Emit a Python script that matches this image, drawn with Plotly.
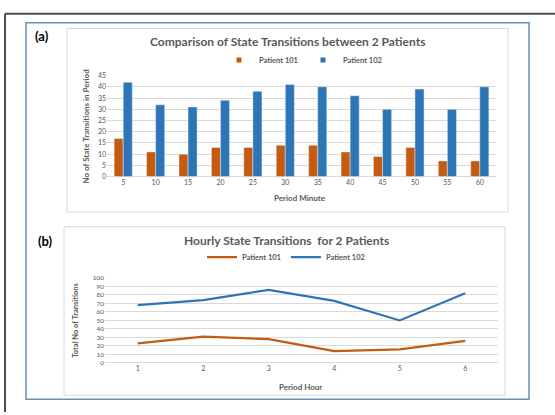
import plotly.graph_objects as go

W, H = 555, 415

# Panel (a): transitions per 5-minute period
minutes = ["5", "10", "15", "20", "25", "30", "35", "40", "45", "50", "55", "60"]
p101_min = [17, 11, 10, 13, 13, 14, 14, 11, 9, 13, 7, 7]
p102_min = [42, 32, 31, 34, 38, 41, 40, 36, 30, 39, 30, 40]

# Panel (b): hourly totals
hours = [1, 2, 3, 4, 5, 6]
p101_hr = [23, 31, 28, 14, 16, 26]
p102_hr = [68, 74, 86, 73, 50, 82]

ticks_a = [0, 5, 10, 15, 20, 25, 30, 35, 40, 45]
ticks_b = [0, 10, 20, 30, 40, 50, 60, 70, 80, 90, 100]

ORANGE = "#C55A11"
BLUE = "#2E75B6"
GRID = "#D9D9D9"
TXT = "#595959"
FONT = "Lato"


def px(x):
    return x / W


def py(y):
    return 1 - y / H


fig = go.Figure()

fig.add_trace(go.Bar(x=minutes, y=p101_min, name="Patient 101", marker_color=ORANGE,
                     xaxis="x", yaxis="y", showlegend=False))
fig.add_trace(go.Bar(x=minutes, y=p102_min, name="Patient 102", marker_color=BLUE,
                     xaxis="x", yaxis="y", showlegend=False))

# small square keys for the bar legend
for name, col in (("<b>Patient 101</b>", ORANGE), ("<b>Patient 102</b>", BLUE)):
    fig.add_trace(go.Scatter(x=[None], y=[None], name=name, mode="markers",
                             marker=dict(symbol="square", size=5, color=col),
                             xaxis="x", yaxis="y", legend="legend"))

fig.add_trace(go.Scatter(x=hours, y=p101_hr, name="<b>Patient 101</b>", mode="lines",
                         line=dict(color=ORANGE, width=2.2), xaxis="x2", yaxis="y2",
                         legend="legend2"))
fig.add_trace(go.Scatter(x=hours, y=p102_hr, name="<b>Patient 102</b>", mode="lines",
                         line=dict(color=BLUE, width=2.2), xaxis="x2", yaxis="y2",
                         legend="legend2"))

axis_common = dict(showline=False, ticks="", fixedrange=True)

fig.update_layout(
    width=W, height=H,
    margin=dict(l=0, r=0, t=0, b=0),
    paper_bgcolor="white", plot_bgcolor="white",
    barmode="group", bargap=0.44, bargroupgap=0,
    xaxis=dict(domain=[px(107), px(496)], type="category", showgrid=False,
               zeroline=False, anchor="y", tickfont=dict(family=FONT, size=7, color=TXT),
               **axis_common),
    yaxis=dict(domain=[py(175), py(72)], range=[0, 45], tickvals=ticks_a,
               showgrid=True, gridcolor=GRID, gridwidth=1, zeroline=True,
               zerolinecolor=GRID, zerolinewidth=1, anchor="x",
               tickfont=dict(family=FONT, size=7, color=TXT), **axis_common),
    xaxis2=dict(domain=[px(105), px(498)], range=[0.5, 6.5], tickvals=hours,
                showgrid=False, zeroline=False, anchor="y2",
                tickfont=dict(family=FONT, size=7, color=TXT), **axis_common),
    yaxis2=dict(domain=[py(365), py(278.3)], range=[0, 100], tickvals=ticks_b,
                showgrid=True, gridcolor=GRID, gridwidth=1, zeroline=True,
                zerolinecolor=GRID, zerolinewidth=1, anchor="x2",
                tickfont=dict(family=FONT, size=6.5, color=TXT), **axis_common),
    legend=dict(orientation="h", x=px(303), y=py(56), xanchor="center", yanchor="middle",
                font=dict(family=FONT, size=7.5, color=TXT), bgcolor="rgba(0,0,0,0)",
                itemwidth=30, traceorder="normal"),
    legend2=dict(orientation="h", x=px(286), y=py(257), xanchor="center", yanchor="middle",
                 font=dict(family=FONT, size=7.5, color=TXT), bgcolor="rgba(0,0,0,0)",
                 itemwidth=30, traceorder="normal"),
    showlegend=True,
)

shapes = [
    # outer frame (left and top edges)
    dict(type="line", xref="paper", yref="paper", x0=px(5), x1=px(5), y0=py(9), y1=py(415),
         line=dict(color="#4D4D4D", width=2)),
    dict(type="line", xref="paper", yref="paper", x0=px(5), x1=px(555), y0=py(9), y1=py(9),
         line=dict(color="#4D4D4D", width=2)),
    # blue figure box
    dict(type="rect", xref="paper", yref="paper", x0=px(26), x1=px(529), y0=py(402), y1=py(18),
         line=dict(color="#6B8FB8", width=1.5)),
    # chart area borders
    dict(type="rect", xref="paper", yref="paper", x0=px(67), x1=px(508), y0=py(211), y1=py(24),
         line=dict(color=GRID, width=1)),
    dict(type="rect", xref="paper", yref="paper", x0=px(64), x1=px(505), y0=py(398), y1=py(226),
         line=dict(color=GRID, width=1)),
]
fig.update_layout(shapes=shapes)


def note(text, x, y, size, color=TXT, bold=True, angle=0):
    t = f"<b>{text}</b>" if bold else text
    fig.add_annotation(text=t, x=px(x), y=py(y), xref="paper", yref="paper",
                       showarrow=False, xanchor="center", yanchor="middle",
                       textangle=angle, font=dict(family=FONT, size=size, color=color))


note("(a)", 42, 32, 13, color="#000000")
note("(b)", 45, 241, 13, color="#000000")
note("Comparison of State Transitions between 2 Patients", 287, 37, 12)
note("Hourly State Transitions  for 2 Patients", 286, 240, 12)
note("No of State Transitions in Period", 86, 124, 8, angle=-90)
note("Period Minute", 300, 197, 8)
note("Total No of Transitions", 76, 322, 7.5, angle=-90)
note("Period Hour", 300, 390, 8)

fig.write_html("out.html")
